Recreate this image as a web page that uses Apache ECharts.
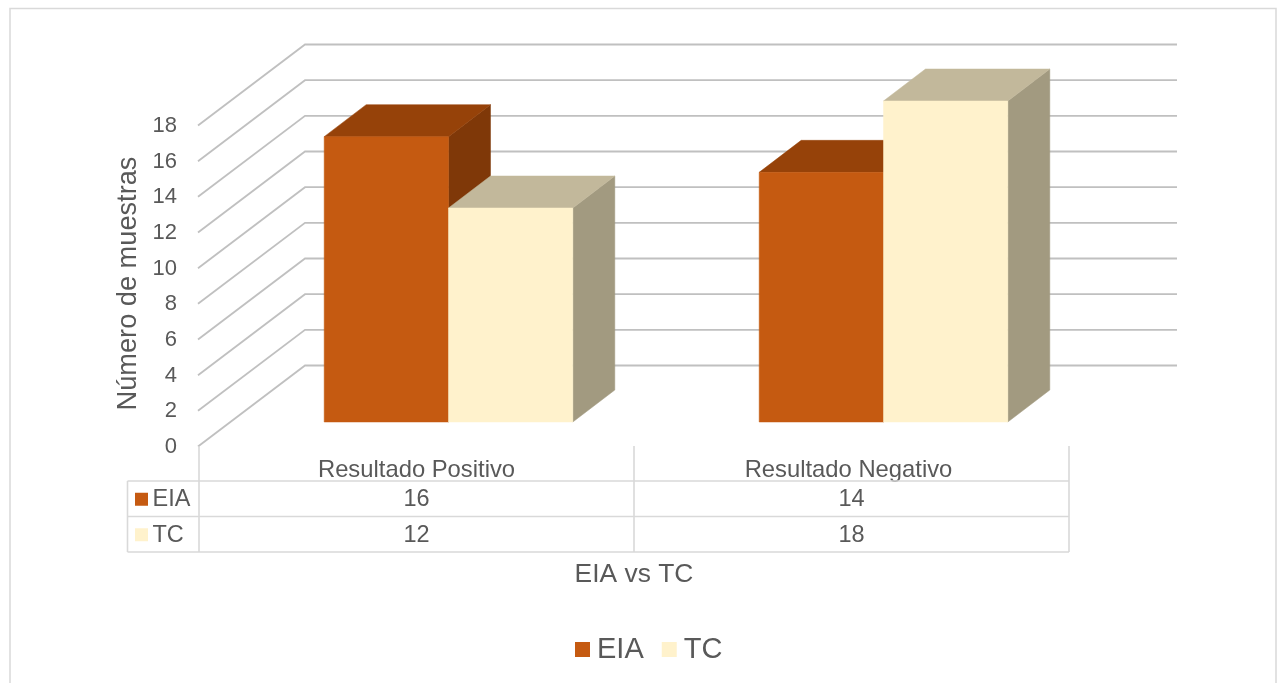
<!DOCTYPE html>
<html>
<head>
<meta charset="utf-8">
<title>EIA vs TC</title>
<script src="https://cdn.jsdelivr.net/npm/echarts@6/dist/echarts.min.js"></script>
<style>
  html, body { margin: 0; padding: 0; background: #fff; overflow: hidden; }
  #chart { width: 1279px; height: 683px; }
</style>
</head>
<body>
<div id="chart"></div>
<script>
// Chart data
const categories = ['Resultado Positivo', 'Resultado Negativo'];
const eiaValues = [16, 14];
const tcValues = [12, 18];
const yTicks = [0, 2, 4, 6, 8, 10, 12, 14, 16, 18];

const eiaFaces = { front: '#C55A11', top: '#964209', side: '#7F3808' };
const tcFaces = { front: '#FFF2CC', top: '#C2B89B', side: '#A29A80' };

const FONT = '"Liberation Sans", Arial, sans-serif';
const TEXT = '#595959';

// Oblique projection of the 3D box: wall depth, and where columns sit inside it
const WALL_DX = 106, WALL_DY = -80.5;
const INSET_DX = 32, INSET_DY = -24;
const BOX_DX = 42, BOX_DY = -32;
const BAR_WIDTH = 124.3;

// Data table rows under the plot
const TABLE_LEFT = 127.5;
const ROW_LINES = [481, 516.5, 552];
const TABLE_TOP = 446;

function face(points, color) {
  return {
    type: 'polygon',
    shape: { points },
    style: { fill: color, stroke: color, lineWidth: 0.5 },
    silent: true
  };
}

// One column as three visible faces, placed through the axes
function columnRenderer(side, faces) {
  return function (params, api) {
    const base = api.coord([api.value(0), 0]);
    const head = api.coord([api.value(0), api.value(1)]);
    const x0 = base[0] + INSET_DX + (side < 0 ? -BAR_WIDTH : 0);
    const x1 = x0 + BAR_WIDTH;
    const yb = base[1] + INSET_DY;
    const yt = head[1] + INSET_DY;
    return {
      type: 'group',
      children: [
        face([[x1, yb], [x1 + BOX_DX, yb + BOX_DY], [x1 + BOX_DX, yt + BOX_DY], [x1, yt]], faces.side),
        face([[x0, yt], [x0 + BOX_DX, yt + BOX_DY], [x1 + BOX_DX, yt + BOX_DY], [x1, yt]], faces.top),
        face([[x0, yb], [x1, yb], [x1, yt], [x0, yt]], faces.front)
      ]
    };
  };
}

// Gridline running along the side wall and then across the back wall
function wallLine(params, api) {
  const p = api.coord([0, api.value(0)]);
  const cs = params.coordSys;
  return {
    type: 'polyline',
    shape: {
      points: [
        [cs.x - 1, p[1] + 0.5],
        [cs.x + WALL_DX, p[1] + WALL_DY],
        [cs.x + cs.width + WALL_DX + 2, p[1] + WALL_DY]
      ]
    },
    style: { stroke: '#C0C0C0', lineWidth: 1.8, fill: null },
    silent: true
  };
}

function tableLine(x1, y1, x2, y2) {
  return {
    type: 'line',
    shape: { x1, y1, x2, y2 },
    style: { stroke: '#D9D9D9', lineWidth: 1.6 },
    silent: true
  };
}

function tableText(x, y, text, align) {
  return {
    type: 'text',
    x, y,
    style: { text, fill: TEXT, font: '23.5px ' + FONT, align, verticalAlign: 'middle' },
    silent: true
  };
}

// Grid rules, row keys and the value cells of the data table
function tableGrid(params, api) {
  if (params.dataIndex > 0) return null;
  const cs = params.coordSys;
  const band = cs.width / categories.length;
  const right = cs.x + cs.width;
  const children = [];
  for (let i = 0; i <= categories.length; i++) {
    children.push(tableLine(cs.x + i * band, TABLE_TOP, cs.x + i * band, ROW_LINES[2]));
  }
  ROW_LINES.forEach(y => children.push(tableLine(TABLE_LEFT, y, right, y)));
  children.push(tableLine(TABLE_LEFT, ROW_LINES[0], TABLE_LEFT, ROW_LINES[2]));

  const rows = [
    { name: 'EIA', values: eiaValues, color: eiaFaces.front },
    { name: 'TC', values: tcValues, color: tcFaces.front }
  ];
  rows.forEach((row, r) => {
    const mid = (ROW_LINES[r] + ROW_LINES[r + 1]) / 2 + 1;
    children.push({
      type: 'rect',
      shape: { x: 135, y: mid - 7, width: 13, height: 13 },
      style: { fill: row.color },
      silent: true
    });
    children.push(tableText(152.5, mid, row.name, 'left'));
    row.values.forEach((v, c) => {
      children.push(tableText(api.coord([c, 0])[0], mid, String(v), 'center'));
    });
  });
  return { type: 'group', children };
}

const chart = echarts.init(document.getElementById('chart'), null, { renderer: 'canvas' });

chart.setOption({
  animation: false,
  backgroundColor: '#fff',
  textStyle: { fontFamily: FONT, color: TEXT },
  graphic: [{
    type: 'rect',
    shape: { x: 10, y: 8.5, width: 1266, height: 720 },
    style: { fill: null, stroke: '#D9D9D9', lineWidth: 1.5 },
    silent: true,
    z: -10
  }],
  grid: { left: 199, top: 125, width: 870, height: 321 },
  legend: {
    left: 575,
    top: 635,
    padding: 0,
    itemWidth: 15,
    itemHeight: 15,
    itemGap: 18,
    icon: 'rect',
    selectedMode: false,
    data: ['EIA', 'TC'],
    textStyle: { fontFamily: FONT, fontSize: 29, color: TEXT, padding: [0, 0, 0, 2] }
  },
  xAxis: {
    type: 'category',
    data: categories,
    name: 'EIA vs TC',
    nameLocation: 'middle',
    nameGap: 116,
    nameTextStyle: { fontFamily: FONT, fontSize: 26.4, color: TEXT },
    axisLine: { show: false },
    axisTick: { show: false },
    axisLabel: {
      fontFamily: FONT,
      fontSize: 23.8,
      color: TEXT,
      margin: 12,
      interval: 0,
      formatter: (value, index) => (index === 1 ? '{shifted|' + value + '}' : value),
      rich: { shifted: { fontFamily: FONT, fontSize: 23.8, color: TEXT, padding: [0, 6, 0, 0] } }
    }
  },
  yAxis: {
    type: 'value',
    min: 0,
    max: 18,
    interval: 2,
    name: 'Número de muestras',
    nameLocation: 'middle',
    nameRotate: 90,
    nameGap: 57,
    nameTextStyle: { fontFamily: FONT, fontSize: 27.2, color: TEXT, padding: [0, 0, 0, 4] },
    axisLine: { show: false },
    axisTick: { show: false },
    splitLine: { show: false },
    axisLabel: {
      color: TEXT,
      margin: 22,
      formatter: value => '{tick|' + value + '}',
      rich: { tick: { fontFamily: FONT, fontSize: 22, color: TEXT, padding: [2, 0, 0, 0] } }
    }
  },
  series: [
    {
      type: 'custom',
      name: 'wall',
      silent: true,
      z: 1,
      data: yTicks.map(v => [v]),
      encode: { y: 0 },
      renderItem: wallLine
    },
    {
      type: 'custom',
      name: 'table',
      silent: true,
      z: 1,
      data: [[0, 0]],
      encode: { x: 0, y: 1 },
      renderItem: tableGrid
    },
    {
      type: 'custom',
      name: 'EIA',
      z: 2,
      itemStyle: { color: eiaFaces.front },
      data: eiaValues.map((v, i) => [i, v]),
      encode: { x: 0, y: 1 },
      renderItem: columnRenderer(-1, eiaFaces)
    },
    {
      type: 'custom',
      name: 'TC',
      z: 3,
      itemStyle: { color: tcFaces.front },
      data: tcValues.map((v, i) => [i, v]),
      encode: { x: 0, y: 1 },
      renderItem: columnRenderer(1, tcFaces)
    }
  ]
});
</script>
</body>
</html>
